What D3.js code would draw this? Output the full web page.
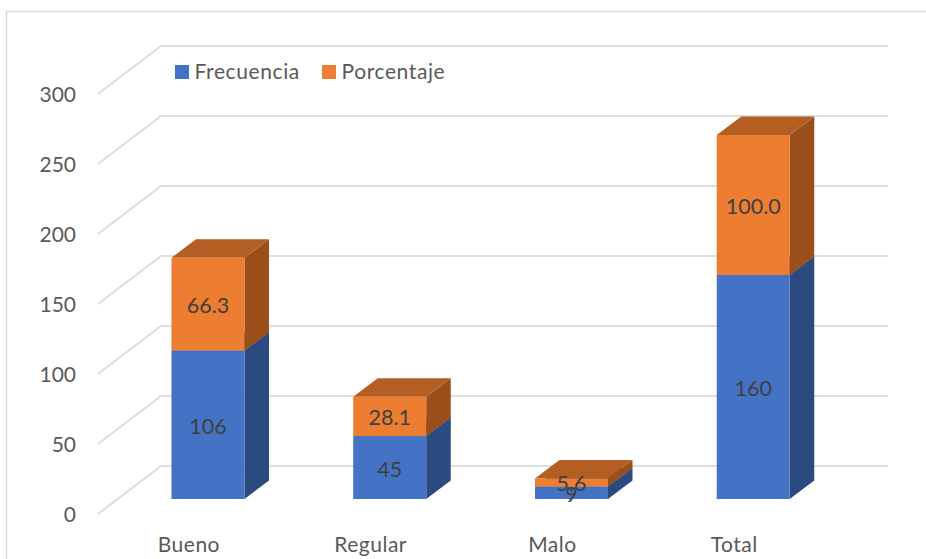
<!DOCTYPE html>
<html><head><meta charset="utf-8">
<script src="https://cdn.jsdelivr.net/npm/d3@7/dist/d3.min.js"></script>
<style>html,body{margin:0;padding:0;background:#fff}svg{display:block}text{font-family:Lato,"Open Sans",sans-serif}</style>
</head><body><svg id="c" width="926" height="559"></svg>
<script>
const categories = ["Bueno","Regular","Malo","Total"];
const frecuencia = [106,45,9,160];
const porcentaje = [66.3,28.1,5.6,100.0];
const porcentajeLabels = ["66.3","28.1","5.6","100.0"];
const yTicks = [0,50,100,150,200,250,300];
const seriesNames = ["Frecuencia","Porcentaje"];
const colors = {Frecuencia:{front:"#4472c4",side:"#2a4a80",top:"#2f5597"},Porcentaje:{front:"#ed7d31",side:"#9a4f1b",top:"#b35e22"}};

const svg = d3.select("#c");
const x = d3.scaleBand().domain(categories).range([98,825]);
const y = d3.scaleLinear().domain([0,300]).range([514,94]);
const floor = {dx:63,dy:-48};
const bar = {w:73,ox:x.bandwidth()/2-17.4,oy:-15,dx:24.5,dy:-18.5};

// chart border
svg.append("path").attr("d","M6.5,559V11.5H926").attr("fill","none").attr("stroke","#d9d9d9").attr("stroke-width",1.5);

// gridlines
const grid = svg.append("g").attr("fill","none").attr("stroke","#dedede").attr("stroke-width",2);
yTicks.forEach(t=>{
  const p = d3.path();
  p.moveTo(x.range()[0],y(t));
  p.lineTo(x.range()[0]+floor.dx,y(t)+floor.dy);
  p.lineTo(x.range()[1]+floor.dx,y(t)+floor.dy);
  grid.append("path").attr("d",p.toString());
});

// y axis labels
svg.append("g").attr("fill","#595959").attr("font-size",21).attr("text-anchor","end")
  .selectAll("text").data(yTicks).join("text")
  .attr("x",76).attr("y",t=>y(t)+7.5).text(t=>t);

// x axis labels
svg.append("g").attr("fill","#595959").attr("font-size",21).attr("letter-spacing",0.5).attr("text-anchor","middle")
  .selectAll("text").data(categories).join("text")
  .attr("x",c=>x(c)+x.bandwidth()/2).attr("y",552).text(c=>c);

function face(g,pts,fill){g.append("polygon").attr("points",pts.map(p=>p.join(",")).join(" ")).attr("fill",fill);}

const gBars = svg.append("g");
categories.forEach((c,i)=>{
  const x0 = x(c)+bar.ox, x1 = x0+bar.w;
  const stacks = [
    {name:"Frecuencia",a:0,b:frecuencia[i]},
    {name:"Porcentaje",a:frecuencia[i],b:frecuencia[i]+porcentaje[i]}
  ];
  stacks.forEach(s=>{
    const col = colors[s.name];
    const ya = y(s.a)+bar.oy, yb = y(s.b)+bar.oy;
    face(gBars,[[x1,ya],[x1+bar.dx,ya+bar.dy],[x1+bar.dx,yb+bar.dy],[x1,yb]],col.side);
    face(gBars,[[x0,yb],[x1,yb],[x1+bar.dx,yb+bar.dy],[x0+bar.dx,yb+bar.dy]],col.top);
    face(gBars,[[x0,ya],[x1,ya],[x1,yb],[x0,yb]],col.front);
  });
});
// data labels
const gLabels = svg.append("g").attr("fill","#404040").attr("font-size",21.5).attr("text-anchor","middle");
categories.forEach((c,i)=>{
  const cx = x(c)+bar.ox+bar.w/2;
  gLabels.append("text").attr("x",cx).attr("y",(y(0)+y(frecuencia[i]))/2+bar.oy+9).text(frecuencia[i]);
  gLabels.append("text").attr("x",cx).attr("y",(y(frecuencia[i])+y(frecuencia[i]+porcentaje[i]))/2+bar.oy+9).text(porcentajeLabels[i]);
});

// legend
const leg = svg.append("g").attr("font-size",21).attr("letter-spacing",0.6).attr("fill","#595959");
const legX = [175,322];
seriesNames.forEach((n,i)=>{
  leg.append("rect").attr("x",legX[i]).attr("y",65).attr("width",14).attr("height",14).attr("fill",colors[n].front);
  leg.append("text").attr("x",legX[i]+19.5).attr("y",79).text(n);
});
</script></body></html>
